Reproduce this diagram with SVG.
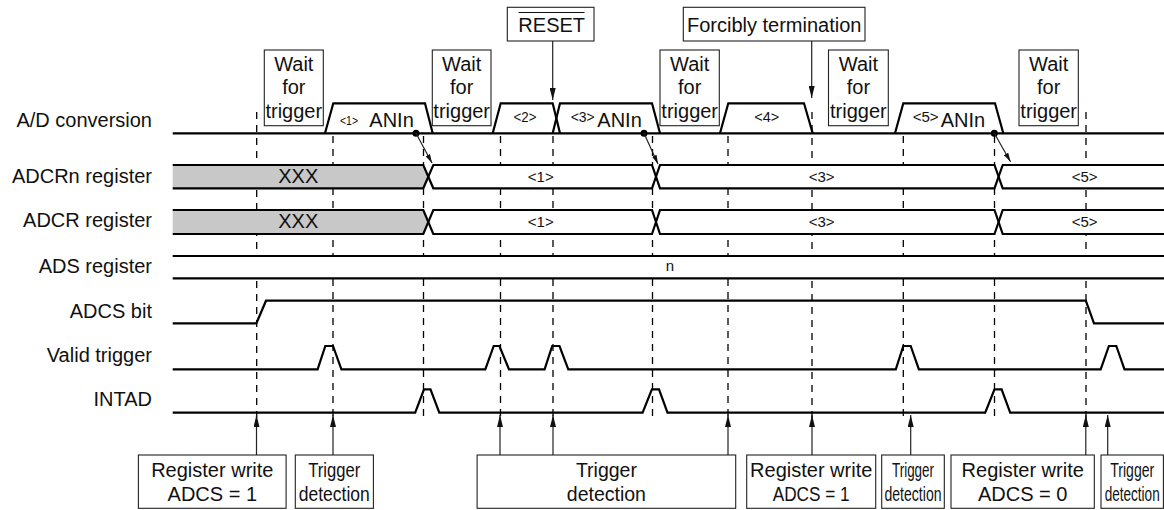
<svg xmlns="http://www.w3.org/2000/svg" width="1164" height="510" viewBox="0 0 1164 510">
<style>
text{font-family:"Liberation Sans",Arial,Helvetica,sans-serif;fill:#111}
.lbl{font-size:20px;text-anchor:end}
.t20{font-size:20px;text-anchor:middle}
.st{font-size:20px}
.sm{font-size:15px;text-anchor:middle}
.sig{fill:none;stroke:#000;stroke-width:2.2;stroke-linejoin:miter}
.box{fill:#fff;stroke:#222;stroke-width:1.1}
.dash{stroke:#000;stroke-width:1.3;stroke-dasharray:7 6;fill:none}
.arr{stroke:#222;stroke-width:1.2;fill:none}
.busfill{fill:#fff;stroke:none}
</style>
<defs>
<marker id="ah" viewBox="0 0 12 6" refX="12" refY="3" markerWidth="12" markerHeight="6" markerUnits="userSpaceOnUse" orient="auto">
<path d="M0,0 L12,3 L0,6 z" fill="#111"/>
</marker>
<marker id="ahs" viewBox="0 0 9 5" refX="9" refY="2.5" markerWidth="9" markerHeight="5" markerUnits="userSpaceOnUse" orient="auto">
<path d="M0,0 L9,2.5 L0,5 z" fill="#111"/>
</marker>
</defs>

<g id="labels">
<text class="lbl" x="152" y="126.7">A/D conversion</text>
<text class="lbl" x="152" y="183.3">ADCRn register</text>
<text class="lbl" x="152" y="226.7">ADCR register</text>
<text class="lbl" x="152" y="273.3">ADS register</text>
<text class="lbl" x="152" y="317.7">ADCS bit</text>
<text class="lbl" x="152" y="362.3">Valid trigger</text>
<text class="lbl" x="152" y="406">INTAD</text>
</g>

<g id="gridlines">
<line class="dash" x1="256.7" y1="112" x2="256.7" y2="422"/>
<line class="dash" x1="333" y1="136" x2="333" y2="422"/>
<line class="dash" x1="423.5" y1="136" x2="423.5" y2="422"/>
<line class="dash" x1="500.5" y1="136" x2="500.5" y2="422"/>
<line class="dash" x1="553" y1="136" x2="553" y2="422"/>
<line class="dash" x1="652.5" y1="136" x2="652.5" y2="422"/>
<line class="dash" x1="728" y1="136" x2="728" y2="422"/>
<line class="dash" x1="812" y1="112" x2="812" y2="422"/>
<line class="dash" x1="903.3" y1="136" x2="903.3" y2="422"/>
<line class="dash" x1="994.5" y1="136" x2="994.5" y2="422"/>
<line class="dash" x1="1086" y1="112" x2="1086" y2="422"/>
</g>

<g id="ad-conversion">
<path class="sig" d="M172.7,133.3 H1164"/>
<path class="sig" d="M325,133.3 L333.3,103.3 H425 L432.7,133.3"/>
<path class="sig" d="M492.7,133.3 L500.7,103.3 H552.7 L560,133.3"/>
<path class="sig" d="M552.7,133.3 L560,103.3 H652 L660,133.3"/>
<path class="sig" d="M720,133.3 L728.3,103.3 H804 L812.7,133.3"/>
<path class="sig" d="M895,133.3 L903.3,103.3 H995 L1003.3,133.3"/>
<text x="340" y="125" style="font-size:13px" textLength="18" lengthAdjust="spacingAndGlyphs">&lt;1&gt;</text>
<text class="st" x="369.3" y="126.5">ANIn</text>
<text class="sm" x="525" y="122" textLength="23" lengthAdjust="spacingAndGlyphs">&lt;2&gt;</text>
<text x="570.7" y="122" style="font-size:15px" textLength="24" lengthAdjust="spacingAndGlyphs">&lt;3&gt;</text>
<text class="st" x="597.3" y="126.5">ANIn</text>
<text class="sm" x="766.7" y="122" textLength="25" lengthAdjust="spacingAndGlyphs">&lt;4&gt;</text>
<text x="912.7" y="122" style="font-size:15px" textLength="26" lengthAdjust="spacingAndGlyphs">&lt;5&gt;</text>
<text class="st" x="940.7" y="126.5">ANIn</text>
</g>

<g id="adcrn-register">
<rect class="busfill" x="172.7" y="165" width="992" height="23.3"/>
<polygon points="172.7,165 423.3,165 428.3,176.7 423.3,188.3 172.7,188.3" fill="#c8c8c8"/>
<path class="sig" d="M172.7,165 H423.3 L433.3,188.3 H652 L660,165 H994.5 L1002.7,188.3 H1164"/>
<path class="sig" d="M172.7,188.3 H423.3 L433.3,165 H652 L660,188.3 H994.5 L1002.7,165 H1164"/>
<text class="t20" x="298.3" y="183.3">XXX</text>
<text class="sm" x="540.8" y="182">&lt;1&gt;</text>
<text class="sm" x="821.7" y="182">&lt;3&gt;</text>
<text class="sm" x="1084.7" y="182">&lt;5&gt;</text>
</g>

<g id="adcr-register">
<rect class="busfill" x="172.7" y="210" width="992" height="24"/>
<polygon points="172.7,210 423.3,210 428.3,222 423.3,234 172.7,234" fill="#c8c8c8"/>
<path class="sig" d="M172.7,210 H423.3 L433.3,234 H652 L660,210 H994.5 L1002.7,234 H1164"/>
<path class="sig" d="M172.7,234 H423.3 L433.3,210 H652 L660,234 H994.5 L1002.7,210 H1164"/>
<text class="t20" x="298.3" y="228.3">XXX</text>
<text class="sm" x="540.8" y="227">&lt;1&gt;</text>
<text class="sm" x="821.7" y="227">&lt;3&gt;</text>
<text class="sm" x="1084.7" y="227">&lt;5&gt;</text>
</g>

<g id="ads-register">
<rect class="busfill" x="172.7" y="256" width="992" height="22.3"/>
<path class="sig" d="M172.7,256 H1164 M172.7,278.3 H1164"/>
<text class="sm" x="670" y="271">n</text>
</g>

<g id="adcs-bit">
<path class="sig" d="M172.7,323.3 H256.4 L266,300.7 H1085.8 L1094,323.3 H1164"/>
</g>

<g id="valid-trigger">
<path class="sig" d="M172.7,369.3 H317.6 L325.3,346 H333 L341.4,369.3 H485.3 L493.7,346 H499.4 L509,369.3 H544.6 L552.2,346 H559.5 L568.3,369.3 H895.8 L903.3,346 H910.7 L918.9,369.3 H1100.7 L1108.9,346 H1116.3 L1124.5,369.3 H1164"/>
</g>

<g id="intad">
<path class="sig" d="M172.7,412.7 H415.2 L424,389.3 H430.5 L439.3,412.7 H642.6 L651.9,389.3 H659 L667.5,412.7 H985.2 L994.5,389.3 H1001.6 L1010.2,412.7 H1164"/>
</g>

<g id="wait-boxes">
<g id="wait1"><rect class="box" x="264.3" y="50" width="59" height="75.7"/>
<text class="t20" x="293.8" y="71">Wait</text><text class="t20" x="293.8" y="94.3">for</text><text class="t20" x="293.8" y="118.3">trigger</text></g>
<g id="wait2"><rect class="box" x="432.3" y="50" width="58.7" height="75.7"/>
<text class="t20" x="461.7" y="71">Wait</text><text class="t20" x="461.7" y="94.3">for</text><text class="t20" x="461.7" y="118.3">trigger</text></g>
<g id="wait3"><rect class="box" x="660" y="50" width="59.3" height="75.7"/>
<text class="t20" x="689.7" y="71">Wait</text><text class="t20" x="689.7" y="94.3">for</text><text class="t20" x="689.7" y="118.3">trigger</text></g>
<g id="wait4"><rect class="box" x="828.5" y="50" width="59.8" height="75.7"/>
<text class="t20" x="858.4" y="71">Wait</text><text class="t20" x="858.4" y="94.3">for</text><text class="t20" x="858.4" y="118.3">trigger</text></g>
<g id="wait5"><rect class="box" x="1019" y="50" width="59.3" height="75.7"/>
<text class="t20" x="1048.7" y="71">Wait</text><text class="t20" x="1048.7" y="94.3">for</text><text class="t20" x="1048.7" y="118.3">trigger</text></g>
</g>

<g id="reset-box">
<rect class="box" x="507.3" y="7.3" width="86.7" height="33.7"/>
<text class="t20" x="551.7" y="31.7">RESET</text>
<line x1="518.5" y1="12.5" x2="584.5" y2="12.5" stroke="#111" stroke-width="1.2"/>
</g>

<g id="forcibly-box">
<rect class="box" x="683.3" y="7.3" width="181.7" height="33.7"/>
<text class="t20" x="774.2" y="31.7">Forcibly termination</text>
</g>

<g id="bottom-boxes">
<g id="b1"><rect class="box" x="138.4" y="455" width="147.7" height="53.3"/>
<text class="t20" x="212.3" y="477.3">Register write</text><text class="t20" x="212.3" y="500.7">ADCS = 1</text></g>
<g id="b2"><rect class="box" x="295.3" y="455" width="78.1" height="53.3"/>
<text class="t20" x="334.3" y="477.3" textLength="52" lengthAdjust="spacingAndGlyphs">Trigger</text><text class="t20" x="334.3" y="500.7" textLength="71" lengthAdjust="spacingAndGlyphs">detection</text></g>
<g id="b3"><rect class="box" x="477.1" y="455" width="258.6" height="53.3"/>
<text class="t20" x="606.4" y="477.3" style="font-size:19.5px">Trigger</text><text class="t20" x="606.4" y="500.7" style="font-size:19.5px">detection</text></g>
<g id="b4"><rect class="box" x="746.7" y="455" width="129" height="53.3"/>
<text class="t20" x="811.2" y="477.3">Register write</text><text class="t20" x="811.2" y="500.7" textLength="77" lengthAdjust="spacingAndGlyphs">ADCS = 1</text></g>
<g id="b5"><rect class="box" x="881.7" y="455" width="62.6" height="53.3"/>
<text class="t20" x="913" y="477.3" textLength="42" lengthAdjust="spacingAndGlyphs">Trigger</text><text class="t20" x="913" y="500.7" textLength="57" lengthAdjust="spacingAndGlyphs">detection</text></g>
<g id="b6"><rect class="box" x="951" y="455" width="143.3" height="53.3"/>
<text class="t20" x="1022.7" y="477.3">Register write</text><text class="t20" x="1022.7" y="500.7">ADCS = 0</text></g>
<g id="b7"><rect class="box" x="1101" y="455" width="62.4" height="53.3"/>
<text class="t20" x="1132.2" y="477.3" textLength="44" lengthAdjust="spacingAndGlyphs">Trigger</text><text class="t20" x="1132.2" y="500.7" textLength="55" lengthAdjust="spacingAndGlyphs">detection</text></g>
</g>

<g id="connectors">
<line class="arr" x1="552.7" y1="41" x2="552.7" y2="100" marker-end="url(#ah)"/>
<line class="arr" x1="811.7" y1="41" x2="811.7" y2="98" marker-end="url(#ah)"/>
<circle cx="416" cy="133.3" r="3.5" fill="#000"/>
<line class="arr" x1="416" y1="133.3" x2="432" y2="163" marker-end="url(#ahs)"/>
<circle cx="644" cy="133.3" r="3.5" fill="#000"/>
<line class="arr" x1="644" y1="133.3" x2="658" y2="164" marker-end="url(#ahs)"/>
<circle cx="994.3" cy="133.3" r="3.5" fill="#000"/>
<line class="arr" x1="994.3" y1="133.3" x2="1010.5" y2="161.7" marker-end="url(#ahs)"/>
<line class="arr" x1="256.5" y1="455" x2="256.5" y2="415" marker-end="url(#ah)"/>
<line class="arr" x1="333" y1="455" x2="333" y2="415" marker-end="url(#ah)"/>
<line class="arr" x1="500" y1="455" x2="500" y2="415" marker-end="url(#ah)"/>
<line class="arr" x1="553" y1="455" x2="553" y2="415" marker-end="url(#ah)"/>
<line class="arr" x1="728" y1="455" x2="728" y2="415" marker-end="url(#ah)"/>
<line class="arr" x1="812" y1="455" x2="812" y2="415" marker-end="url(#ah)"/>
<line class="arr" x1="910.7" y1="455" x2="910.7" y2="415" marker-end="url(#ah)"/>
<line class="arr" x1="1085.8" y1="455" x2="1085.8" y2="415" marker-end="url(#ah)"/>
<line class="arr" x1="1107.7" y1="455" x2="1107.7" y2="415" marker-end="url(#ah)"/>
</g>
</svg>
